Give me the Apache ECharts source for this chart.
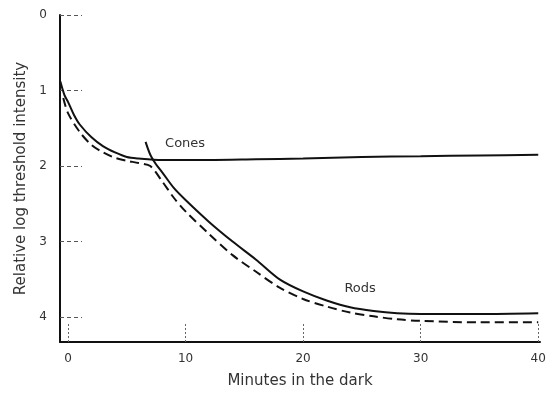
<!DOCTYPE html>
<html>
<head>
<meta charset="utf-8">
<script src="https://cdn.jsdelivr.net/npm/echarts@6/dist/echarts.min.js"></script>
<style>
  html, body { margin: 0; padding: 0; background: #fff; }
  #chart { width: 551px; height: 393px; }
</style>
</head>
<body>
<div id="chart"></div>
<script>
// minutes in the dark / relative log threshold intensity
var conesMin = [-0.65, -0.3, 0, 0.5, 1, 2, 3, 4, 5, 6, 8, 12, 16, 20, 25, 30, 35, 40]
var conesVal = [0.88, 1.06, 1.15, 1.32, 1.45, 1.62, 1.74, 1.82, 1.88, 1.9, 1.92, 1.92, 1.91, 1.9, 1.88, 1.87, 1.86, 1.85]

var rodsMin = [6.6, 7, 7.5, 8, 9, 10, 12, 14, 16, 18, 20, 22, 24, 26, 28, 30, 35, 40]
var rodsVal = [1.68, 1.85, 1.98, 2.08, 2.29, 2.45, 2.74, 3.0, 3.24, 3.5, 3.66, 3.78, 3.87, 3.92, 3.95, 3.96, 3.96, 3.95]

// dashed curve (fitted)
var fitMin = [-0.4, 0, 1, 2, 3, 4, 5, 6, 7, 8, 9, 10, 12, 14, 16, 18, 20, 22, 24, 26, 28, 30, 35, 40]
var fitVal = [1.1, 1.3, 1.55, 1.72, 1.82, 1.89, 1.93, 1.96, 2.0, 2.2, 2.42, 2.6, 2.9, 3.18, 3.4, 3.61, 3.76, 3.86, 3.94, 3.99, 4.03, 4.05, 4.07, 4.07]

var xTicks = [0, 10, 20, 30, 40]
var yTicks = [0, 1, 2, 3, 4]

function pairs(xs, ys) {
  return xs.map(function (x, i) { return [x, ys[i]] })
}

var chart = echarts.init(document.getElementById('chart'))
var font = 'DejaVu Sans'

function textMark(text, coord) {
  return {
    symbol: 'circle',
    symbolSize: 1,
    itemStyle: { color: 'rgba(0,0,0,0)' },
    label: { show: true, position: 'inside', formatter: text, color: '#333', fontSize: 13, fontFamily: font },
    data: [{ coord: coord }]
  }
}

chart.setOption({
  animation: false,
  grid: { left: 60, right: 11, top: 15, bottom: 51, outerBoundsMode: 'none' },
  xAxis: {
    type: 'value',
    position: 'bottom',
    min: -0.68,
    max: 40.15,
    name: 'Minutes in the dark',
    nameLocation: 'middle',
    nameGap: 32,
    nameTextStyle: { color: '#333', fontSize: 15, fontFamily: font },
    splitLine: { show: false },
    axisLine: { onZero: false, lineStyle: { color: '#111', width: 2 } },
    axisTick: {
      inside: true, length: 20, customValues: xTicks,
      lineStyle: { color: '#666', type: [2, 2], width: 1 }
    },
    axisLabel: {
      customValues: xTicks, margin: 11,
      color: '#333', fontSize: 12, fontFamily: font
    }
  },
  yAxis: {
    type: 'value',
    position: 'left',
    inverse: true,
    min: 0,
    max: 4.33,
    name: 'Relative log threshold intensity',
    nameLocation: 'middle',
    nameGap: 27,
    nameTextStyle: { color: '#333', fontSize: 15, fontFamily: font },
    splitLine: { show: false },
    axisLine: { onZero: false, lineStyle: { color: '#111', width: 2 } },
    axisTick: {
      inside: true, length: 22, customValues: yTicks,
      lineStyle: { color: '#555', type: [4, 3], width: 1 }
    },
    axisLabel: {
      customValues: yTicks, margin: 13,
      color: '#333', fontSize: 12, fontFamily: font
    }
  },
  series: [
    {
      name: 'Cones',
      type: 'line',
      data: pairs(conesMin, conesVal),
      smooth: 0.3,
      showSymbol: false,
      lineStyle: { color: '#111', width: 2 },
      markPoint: textMark('Cones', [9.96, 1.7])
    },
    {
      name: 'Rods',
      type: 'line',
      data: pairs(rodsMin, rodsVal),
      smooth: 0.3,
      showSymbol: false,
      lineStyle: { color: '#111', width: 2 },
      markPoint: textMark('Rods', [24.85, 3.62])
    },
    {
      name: 'Fit',
      type: 'line',
      data: pairs(fitMin, fitVal),
      smooth: 0.3,
      showSymbol: false,
      lineStyle: { color: '#111', width: 2, type: [9, 5] }
    }
  ]
})
</script>
</body>
</html>
